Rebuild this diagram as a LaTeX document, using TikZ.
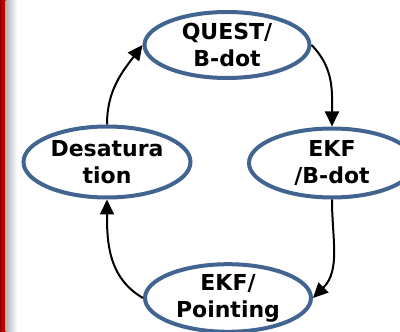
\documentclass[tikz,border=0pt]{standalone}
\usepackage{fontspec}
\setmainfont{DejaVu Sans}
\usetikzlibrary{shapes.geometric,arrows.meta}
\definecolor{stateblue}{RGB}{65,100,145}
\definecolor{barred}{RGB}{192,0,0}
\begin{document}
\begin{tikzpicture}[x=1pt,y=1pt,
  state/.style={ellipse,draw=stateblue,line width=4pt,fill=white,inner sep=0pt,
    align=center,font=\fontsize{22}{27}\selectfont\bfseries},
  flow/.style={line width=2pt,-{Triangle[length=15pt,width=14pt]}}]
  \useasboundingbox (0,0) rectangle (400,332);
  % left margin: red bar with a soft grey shadow
  \fill[barred] (0,0) rectangle (5.5,332);
  \fill[barred!70!black] (0,0) rectangle (1,332);
  \shade[left color=black!30,right color=white] (5.5,0) rectangle (17,332);
  % states
  \node[state,minimum width=165pt,minimum height=66pt] (quest) at (227,287) {QUEST/\\B-dot};
  \node[state,minimum width=166pt,minimum height=69pt] (ekfb) at (332,169) {EKF\\/B-dot};
  \node[state,minimum width=167pt,minimum height=71pt] (desat) at (107,170) {Desatura\\tion};
  \node[state,minimum width=166pt,minimum height=66pt] (point) at (228,34) {EKF/\\Pointing};
  % transitions
  \draw[flow] (desat.north) to[out=90,in=233] (quest.west);
  \draw[flow] (quest.east) to[out=-45,in=90] (ekfb.north);
  \draw[flow] (ekfb.south) to[out=-90,in=45] (point.east);
  \draw[flow] (point.west) to[out=150,in=-90] (desat.south);
\end{tikzpicture}
\end{document}
